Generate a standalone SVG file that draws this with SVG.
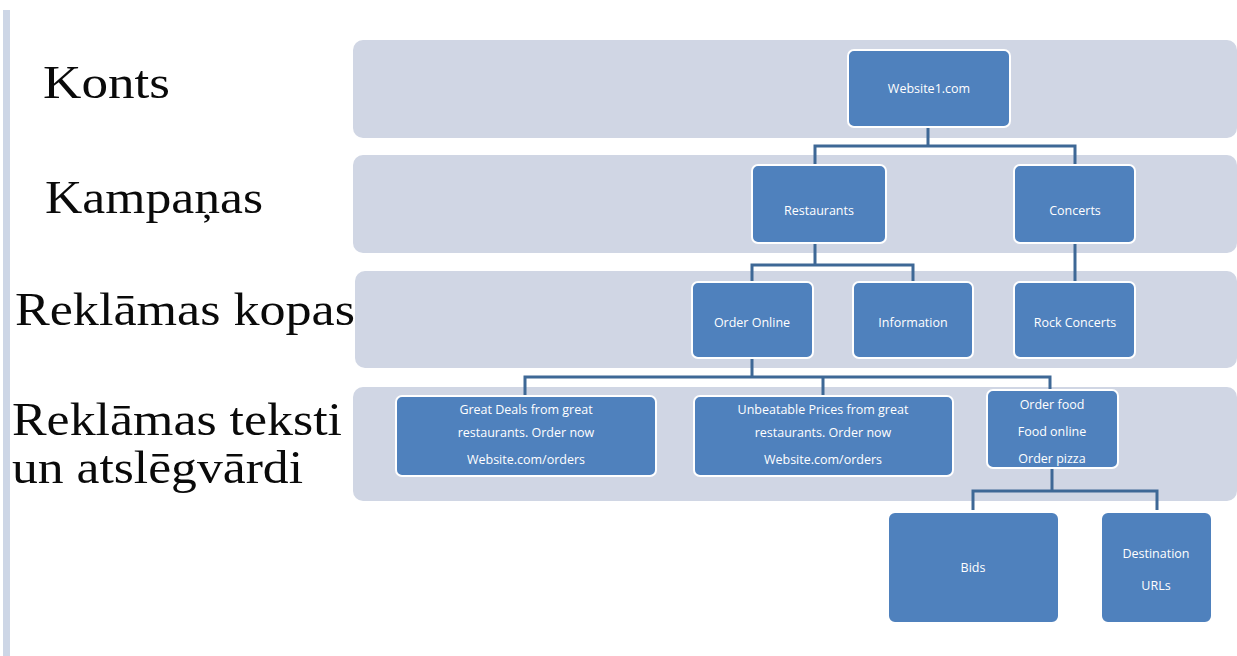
<svg xmlns="http://www.w3.org/2000/svg" width="1237" height="656" viewBox="0 0 1237 656">
<style>
.band{fill:#d0d6e4}
.node{fill:#4f81bd;stroke:#ffffff;stroke-width:2}
.nt{font-family:"Open Sans","Liberation Sans",sans-serif;font-size:12.5px;fill:#ffffff;text-anchor:middle}
.lbl{font-family:"Liberation Serif","Times New Roman",serif;font-size:47px;fill:#0a0a0a}
.con{fill:none;stroke:#3e6896;stroke-width:3}
</style>
<rect width="1237" height="656" fill="#ffffff"/>
<rect x="3" y="10" width="7" height="646" fill="#cdd6e6"/>
<g id="bands">
<rect class="band" x="353" y="40" width="884" height="98" rx="10"/>
<rect class="band" x="353" y="155" width="884" height="98" rx="10"/>
<rect class="band" x="355" y="271" width="882" height="97" rx="10"/>
<rect class="band" x="353" y="387" width="884" height="114" rx="10"/>
</g>
<g id="labels">
<text class="lbl" x="43" y="98" textLength="127" lengthAdjust="spacingAndGlyphs">Konts</text>
<text class="lbl" x="45" y="213" textLength="218" lengthAdjust="spacingAndGlyphs">Kampaņas</text>
<text class="lbl" x="15" y="325" textLength="340" lengthAdjust="spacingAndGlyphs">Reklāmas kopas</text>
<text class="lbl" x="12" y="435" textLength="330" lengthAdjust="spacingAndGlyphs">Reklāmas teksti</text>
<text class="lbl" x="12" y="483" textLength="291" lengthAdjust="spacingAndGlyphs">un atslēgvārdi</text>
</g>
<g id="connectors">
<path class="con" d="M928 127V146M815 165V146H1075V165"/>
<path class="con" d="M815 243V265M752 282V265H913V282"/>
<path class="con" d="M1075 243V282"/>
<path class="con" d="M752 358V377M525 396V377H1050V390M823 377V396"/>
<path class="con" d="M1052 468V491M973 510V491H1157V510"/>
</g>
<g id="n-website">
<rect class="node" x="848" y="50" width="162" height="77" rx="6"/>
<text class="nt" x="929" y="93">Website1.com</text>
</g>
<g id="n-restaurants">
<rect class="node" x="752" y="165" width="134" height="78" rx="6"/>
<text class="nt" x="819" y="215">Restaurants</text>
</g>
<g id="n-concerts">
<rect class="node" x="1014" y="165" width="121" height="78" rx="6"/>
<text class="nt" x="1075" y="215">Concerts</text>
</g>
<g id="n-orderonline">
<rect class="node" x="692" y="282" width="121" height="76" rx="6"/>
<text class="nt" x="752" y="327">Order Online</text>
</g>
<g id="n-information">
<rect class="node" x="853" y="282" width="120" height="76" rx="6"/>
<text class="nt" x="913" y="327">Information</text>
</g>
<g id="n-rockconcerts">
<rect class="node" x="1014" y="282" width="121" height="76" rx="6"/>
<text class="nt" x="1075" y="327">Rock Concerts</text>
</g>
<g id="n-greatdeals">
<rect class="node" x="396" y="396" width="260" height="80" rx="6"/>
<text class="nt" x="526" y="414">Great Deals from great</text>
<text class="nt" x="526" y="437">restaurants. Order now</text>
<text class="nt" x="526" y="464">Website.com/orders</text>
</g>
<g id="n-unbeatable">
<rect class="node" x="694" y="396" width="259" height="80" rx="6"/>
<text class="nt" x="823" y="414">Unbeatable Prices from great</text>
<text class="nt" x="823" y="437">restaurants. Order now</text>
<text class="nt" x="823" y="464">Website.com/orders</text>
</g>
<g id="n-orderfood">
<rect class="node" x="987" y="390" width="131" height="78" rx="6"/>
<text class="nt" x="1052" y="409">Order food</text>
<text class="nt" x="1052" y="436">Food online</text>
<text class="nt" x="1052" y="463">Order pizza</text>
</g>
<g id="n-bids">
<rect class="node" x="888" y="512" width="171" height="111" rx="7"/>
<text class="nt" x="973" y="572">Bids</text>
</g>
<g id="n-destination">
<rect class="node" x="1101" y="512" width="111" height="111" rx="7"/>
<text class="nt" x="1156" y="558">Destination</text>
<text class="nt" x="1156" y="590">URLs</text>
</g>
</svg>
